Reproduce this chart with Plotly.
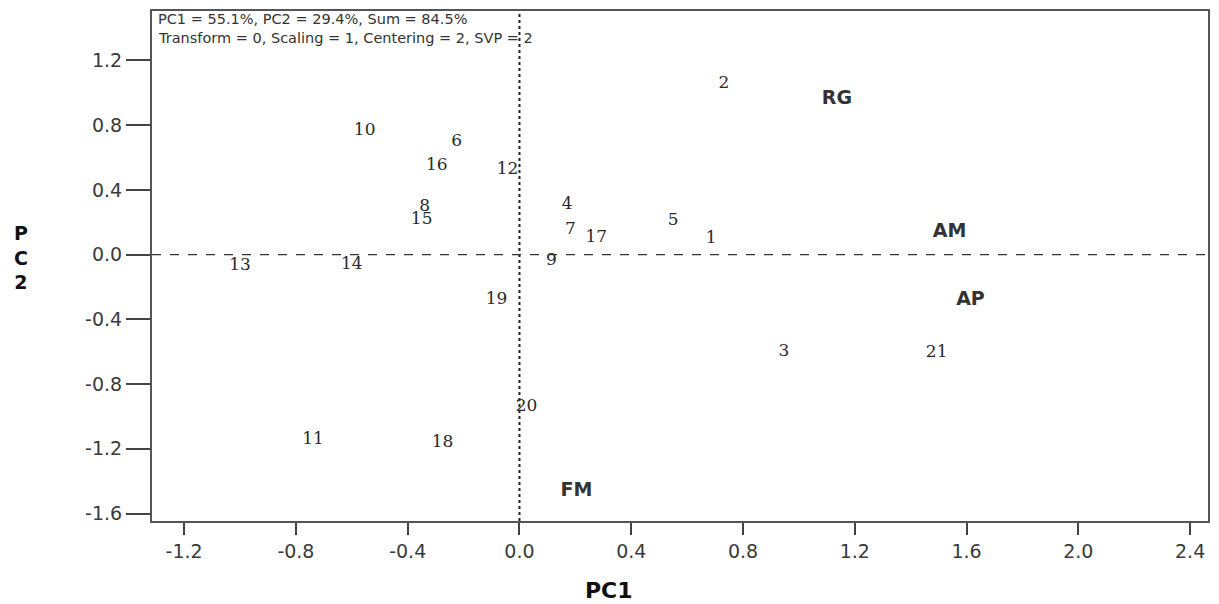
import plotly.graph_objects as go

# Genotype scores (labels shown as numbers)
geno_labels = ["1", "2", "3", "4", "5", "6", "7", "8", "9", "10", "11",
               "12", "13", "14", "15", "16", "17", "18", "19", "20", "21"]
geno_pc1 = [0.686, 0.732, 0.946, 0.171, 0.55, -0.225, 0.182, -0.339, 0.114, -0.554, -0.739,
            -0.043, -1.0, -0.6, -0.35, -0.296, 0.275, -0.275, -0.082, 0.025, 1.493]
geno_pc2 = [0.098, 1.057, -0.602, 0.308, 0.209, 0.698, 0.153, 0.296, -0.038, 0.767, -1.147,
            0.525, -0.069, -0.063, 0.215, 0.55, 0.104, -1.16, -0.28, -0.942, -0.608]

# Variable (trait) scores
var_labels = ["RG", "AM", "AP", "FM"]
var_pc1 = [1.136, 1.539, 1.614, 0.204]
var_pc2 = [0.959, 0.141, -0.28, -1.462]

x_ticks = [-1.2, -0.8, -0.4, 0.0, 0.4, 0.8, 1.2, 1.6, 2.0, 2.4]
x_ticktext = ["-1.2", "-0.8", "-0.4", "0.0", "0.4", "0.8", "1.2", "1.6", "2.0", "2.4"]
y_ticks = [-1.6, -1.2, -0.8, -0.4, 0.0, 0.4, 0.8, 1.2]
y_ticktext = ["-1.6", "-1.2", "-0.8", "-0.4", "0.0", "0.4", "0.8", "1.2"]

header_lines = ["PC1 = 55.1%, PC2 = 29.4%, Sum = 84.5%",
                "Transform = 0, Scaling = 1, Centering = 2, SVP = 2"]

x_range = [-1.315, 2.464]
y_range = [-1.646, 1.505]

fig = go.Figure()

fig.add_trace(go.Scatter(
    x=geno_pc1, y=geno_pc2, text=geno_labels, mode="text",
    textfont=dict(family="DejaVu Serif", size=17, color="#2a2a2a"),
    textposition="middle center", showlegend=False, hoverinfo="text"))

fig.add_trace(go.Scatter(
    x=var_pc1, y=var_pc2, text=var_labels, mode="text",
    textfont=dict(family="DejaVu Sans", size=19, color="#333333"),
    texttemplate="<b>%{text}</b>",
    textposition="middle center", showlegend=False, hoverinfo="text"))

# reference lines through the origin
fig.add_shape(type="line", xref="x", yref="y", x0=0, x1=0, y0=y_range[0], y1=y_range[1],
              line=dict(color="#222222", width=2, dash="dot"), layer="below")
fig.add_shape(type="line", xref="x", yref="y", x0=x_range[0], x1=x_range[1], y0=0, y1=0,
              line=dict(color="#333333", width=1.3, dash="dash"), layer="below")

axis_common = dict(showgrid=False, zeroline=False, showline=True, mirror=True,
                   linecolor="#555555", linewidth=2, ticks="outside", tickcolor="#444444",
                   tickwidth=2, tickfont=dict(family="DejaVu Sans", size=19, color="#3a3a3a"))

fig.update_xaxes(range=x_range, tickvals=x_ticks, ticktext=x_ticktext, ticklen=12, **axis_common)
fig.update_yaxes(range=y_range, tickvals=y_ticks, ticktext=y_ticktext, ticklen=24, **axis_common)

for line, yp in zip(header_lines, [0.984, 0.947]):
    fig.add_annotation(xref="paper", yref="paper", x=0.005, y=yp, xanchor="left", yanchor="middle",
                       showarrow=False, align="left", text=line, borderpad=0,
                       font=dict(family="DejaVu Sans", size=14.5, color="#333333"))

fig.add_annotation(xref="paper", yref="paper", x=0.433, y=-0.1356, xanchor="center", yanchor="middle",
                   showarrow=False, text="<b>PC1</b>",
                   font=dict(family="DejaVu Sans", size=22, color="#111111"))

fig.add_annotation(xref="paper", yref="paper", x=-0.1244, y=0.5167, xanchor="center", yanchor="middle",
                   showarrow=False, text="<b>P<br>C<br>2</b>",
                   font=dict(family="DejaVu Sans", size=19, color="#111111"))

fig.update_layout(width=1219, height=604, paper_bgcolor="white", plot_bgcolor="white",
                  margin=dict(l=152, r=9, t=11, b=83), showlegend=False)

fig.write_html("out.html", config={"displayModeBar": False},
               post_script="document.body.style.margin='0';")
